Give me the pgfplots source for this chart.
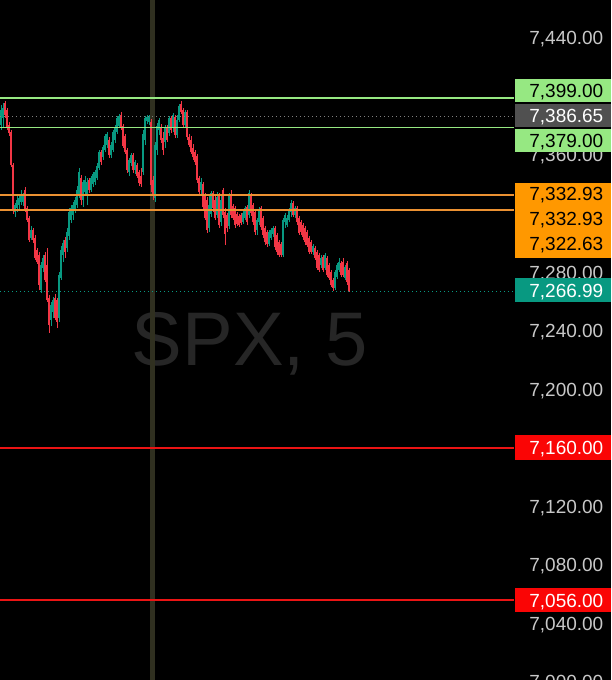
\documentclass[border=0pt]{standalone}
\usepackage{pgfplots}
\pgfplotsset{compat=1.18}
\usepackage{pgfplotstable}
\usepackage{fontspec}
\setmainfont{Liberation Sans}
\definecolor{upc}{RGB}{8,153,129}
\definecolor{dnc}{RGB}{242,54,69}
\definecolor{tickc}{RGB}{200,200,200}
\definecolor{lgreen}{RGB}{150,232,130}
\definecolor{boxgray}{RGB}{80,80,80}
\definecolor{orangebox}{RGB}{255,152,0}
\definecolor{orangeline}{RGB}{235,145,50}
\definecolor{redbox}{RGB}{250,5,5}
\definecolor{redline}{RGB}{235,20,20}
\definecolor{vline}{RGB}{48,48,32}
\definecolor{wm}{RGB}{38,38,38}

\pgfplotstableread{
x o h l c
0 7380.6 7394.3 7377.2 7390.9
1 7385.4 7395.7 7378.6 7392.3
7 7321.1 7327.3 7317.7 7325.9
8 7323.9 7332.1 7321.1 7329.3
9 7325.9 7332.8 7323.2 7330.7
10 7328.0 7336.2 7325.9 7332.8
11 7328.0 7334.1 7325.2 7332.1
15 7303.4 7311.6 7302.0 7308.8
20 7267.8 7287.0 7265.8 7284.9
21 7282.9 7291.8 7280.1 7289.7
25 7247.3 7259.6 7243.2 7257.6
26 7252.8 7263.1 7248.7 7261.0
29 7248.7 7280.1 7246.0 7278.1
30 7276.0 7297.9 7274.7 7295.2
31 7291.8 7302.0 7287.0 7300.0
33 7296.5 7310.2 7293.8 7307.5
34 7304.7 7323.9 7302.0 7321.1
35 7315.7 7325.9 7313.6 7323.9
36 7319.1 7328.0 7315.7 7325.9
37 7322.5 7331.4 7320.5 7329.3
38 7325.9 7338.9 7323.9 7336.2
39 7332.8 7351.2 7330.7 7348.5
41 7329.3 7343.0 7324.6 7341.7
42 7334.8 7345.8 7332.8 7343.0
43 7332.8 7344.4 7325.9 7341.7
45 7336.2 7345.8 7334.8 7344.4
46 7340.3 7348.5 7338.2 7347.1
47 7341.7 7349.9 7339.6 7348.5
48 7344.4 7354.6 7343.0 7352.6
49 7351.2 7363.5 7349.9 7362.2
51 7358.7 7366.9 7356.7 7365.6
52 7363.5 7374.5 7362.2 7373.1
53 7366.9 7375.8 7364.9 7374.5
55 7360.1 7369.0 7358.1 7366.9
56 7363.5 7377.2 7362.2 7375.8
57 7370.4 7380.6 7368.3 7379.3
58 7375.8 7386.8 7374.5 7385.4
59 7379.9 7388.2 7378.6 7386.8
64 7348.5 7358.1 7345.8 7356.7
65 7354.6 7361.5 7352.6 7360.1
67 7349.9 7356.7 7347.1 7355.3
71 7348.5 7377.2 7346.4 7374.5
72 7370.4 7386.8 7366.9 7385.4
73 7383.4 7387.5 7381.3 7386.1
74 7382.7 7387.5 7380.6 7386.1
77 7330.7 7369.0 7328.0 7366.9
78 7363.5 7382.0 7360.1 7379.9
79 7377.2 7385.4 7373.8 7384.0
82 7369.0 7380.6 7364.9 7378.6
84 7375.2 7386.8 7373.1 7385.4
86 7378.6 7388.8 7375.8 7387.5
88 7373.8 7387.5 7371.7 7384.0
89 7384.0 7395.0 7382.7 7393.6
92 7380.6 7390.9 7378.6 7389.5
100 7336.2 7344.4 7332.8 7341.7
104 7310.2 7332.8 7307.5 7325.9
105 7319.8 7335.5 7317.7 7334.1
108 7319.1 7334.8 7317.0 7331.4
110 7314.3 7332.1 7311.6 7329.3
114 7311.6 7334.1 7309.5 7332.8
121 7314.3 7321.8 7312.9 7320.5
122 7317.0 7325.2 7315.7 7323.9
124 7319.1 7336.2 7317.0 7334.1
128 7308.8 7317.0 7305.4 7315.7
129 7314.3 7324.6 7312.3 7322.5
134 7299.3 7308.8 7297.9 7307.5
135 7303.4 7310.2 7302.0 7308.8
136 7306.1 7311.6 7304.1 7310.2
141 7291.8 7317.0 7290.4 7315.7
142 7314.3 7320.5 7310.2 7319.1
143 7312.3 7319.1 7310.9 7317.0
144 7315.7 7323.9 7314.3 7322.5
145 7321.1 7329.3 7317.7 7327.3
147 7319.1 7325.2 7317.0 7323.9
156 7293.8 7299.3 7291.8 7297.9
160 7284.9 7291.8 7282.9 7289.7
162 7282.9 7293.1 7281.5 7291.8
167 7269.2 7281.5 7267.8 7280.1
168 7276.7 7286.3 7275.4 7284.9
169 7281.5 7289.7 7280.1 7287.0
172 7276.0 7284.9 7274.7 7283.6
}\upcandles

\pgfplotstableread{
x o h l c
2 7395.7 7397.0 7385.4 7387.5
3 7390.9 7392.3 7377.2 7379.3
4 7380.6 7382.7 7373.1 7375.2
5 7375.8 7377.2 7351.9 7353.3
6 7353.3 7354.6 7319.8 7322.5
12 7336.2 7338.2 7321.1 7322.5
13 7323.9 7325.2 7314.3 7315.7
14 7317.0 7318.4 7300.6 7302.0
16 7308.8 7310.2 7300.0 7302.0
17 7303.4 7305.4 7288.3 7289.7
18 7295.2 7296.5 7285.6 7287.0
19 7291.8 7293.8 7267.8 7271.3
22 7291.8 7293.8 7273.3 7274.7
23 7284.9 7296.5 7259.6 7261.0
24 7262.4 7264.4 7238.5 7243.9
27 7262.4 7265.1 7247.3 7248.7
28 7261.0 7262.4 7241.9 7246.0
32 7302.0 7304.1 7289.7 7293.8
40 7344.4 7346.4 7325.9 7329.3
44 7343.0 7344.4 7334.1 7336.2
50 7362.2 7363.5 7353.3 7355.3
54 7370.4 7372.4 7358.1 7360.1
60 7387.5 7389.5 7377.2 7378.6
61 7379.9 7381.3 7364.9 7366.2
62 7373.1 7374.5 7360.8 7362.2
63 7363.5 7364.9 7347.8 7349.9
66 7360.1 7361.5 7347.8 7349.9
68 7353.3 7354.6 7344.4 7345.8
69 7348.5 7349.9 7338.9 7341.0
70 7345.8 7351.2 7338.2 7340.3
75 7382.7 7384.7 7334.8 7339.6
76 7343.0 7345.8 7329.3 7332.8
80 7379.3 7381.3 7368.3 7370.4
81 7371.7 7375.8 7360.1 7363.5
83 7378.6 7380.6 7369.0 7370.4
85 7385.4 7386.8 7375.2 7377.2
87 7386.1 7387.5 7371.7 7373.8
90 7395.0 7397.0 7388.2 7389.5
91 7390.9 7392.3 7378.6 7380.6
93 7389.5 7390.9 7370.4 7372.4
94 7372.4 7374.5 7365.6 7366.9
95 7370.4 7373.1 7360.8 7362.2
96 7364.9 7367.6 7356.7 7358.7
97 7362.2 7363.5 7353.3 7355.3
98 7359.4 7360.8 7341.0 7343.0
99 7344.4 7345.8 7333.5 7334.8
101 7340.3 7341.7 7322.5 7324.6
102 7332.8 7334.1 7315.7 7317.0
103 7329.3 7331.4 7306.8 7308.8
106 7334.1 7335.5 7321.1 7323.9
107 7329.3 7332.1 7315.7 7317.0
109 7332.1 7334.1 7310.2 7312.3
111 7336.2 7337.6 7317.0 7319.1
112 7321.1 7323.9 7298.6 7306.1
113 7319.1 7320.5 7307.5 7310.2
115 7332.8 7336.2 7317.0 7319.1
116 7325.2 7326.6 7315.7 7317.0
117 7323.9 7325.2 7310.2 7312.3
118 7319.8 7321.1 7311.6 7312.9
119 7318.4 7319.8 7310.9 7312.3
120 7319.1 7320.5 7312.3 7313.6
123 7324.6 7325.9 7312.3 7314.3
125 7332.8 7334.1 7318.4 7320.5
126 7325.9 7327.3 7312.3 7314.3
127 7321.1 7322.5 7305.4 7307.5
130 7323.9 7325.2 7308.8 7310.9
131 7317.0 7318.4 7303.4 7305.4
132 7310.2 7311.6 7298.6 7300.6
133 7307.5 7308.8 7297.2 7299.3
137 7310.2 7311.6 7295.2 7297.2
138 7305.4 7306.8 7291.8 7293.8
139 7300.6 7302.0 7290.4 7291.8
140 7299.3 7300.6 7290.4 7291.8
146 7327.3 7328.7 7317.7 7319.1
148 7323.9 7325.2 7312.3 7314.3
149 7317.0 7318.4 7305.4 7306.8
150 7314.3 7315.7 7305.4 7307.5
151 7312.3 7313.6 7302.0 7304.1
152 7310.2 7311.6 7298.6 7300.6
153 7307.5 7308.8 7297.2 7298.6
154 7303.4 7304.7 7292.4 7293.8
155 7300.6 7302.0 7292.4 7293.8
157 7296.5 7297.9 7288.3 7289.7
158 7293.8 7295.2 7281.5 7282.9
159 7291.8 7293.1 7280.1 7281.5
161 7290.4 7291.8 7280.1 7281.5
163 7289.7 7291.1 7276.7 7278.1
164 7284.9 7286.3 7274.7 7276.0
165 7280.1 7281.5 7269.9 7271.3
166 7274.7 7276.0 7267.2 7269.2
170 7286.3 7287.7 7276.7 7278.1
171 7287.0 7289.7 7276.7 7278.1
173 7286.3 7287.7 7271.3 7273.3
174 7281.5 7282.9 7266.5 7266.99
}\downcandles

\tikzset{lbl/.style={inner sep=0pt, text height=13.6pt, text depth=0pt, font=\fontsize{19}{19}\selectfont, anchor=east}}

\begin{document}
\begin{tikzpicture}[x=1pt,y=1pt]
\useasboundingbox (0,0) rectangle (611,680);
\fill[black] (0,0) rectangle (611,680);
\begin{axis}[
  at={(0,0)}, anchor=south west,
  width=514pt, height=680pt, scale only axis,
  xmin=-0.5, xmax=256.5, ymin=7001.2, ymax=7466.1,
  axis line style={draw=none},
  xtick=\empty,
  ytick={7040,7080,7120,7200,7240,7280,7360,7440},
  yticklabels={{7,040.00},{7,080.00},{7,120.00},{7,200.00},{7,240.00},{7,280.00},{7,360.00},{7,440.00}},
  yticklabel pos=right,
  major tick length=0pt, tick style={draw=none},
  yticklabel style={anchor=east, inner sep=0pt, xshift=89.5pt, text height=13.6pt, text depth=0pt, text=tickc, font=\fontsize{19}{19}\selectfont},
]
\node[font=\fontsize{76}{76}\selectfont, text=wm, anchor=base] at (axis cs:124.5,7216.5) {SPX, 5};
\addplot[draw=vline, line width=5pt, forget plot] coordinates {(75.5,7001.2) (75.5,7466.1)};
% wicks
\addplot[draw=none, forget plot, error bars/.cd, y dir=both, y explicit, error mark=none,
  error bar style={draw=upc, line width=0.6pt}]
  table[x=x, y expr={(\thisrow{h}+\thisrow{l})/2}, y error expr={(\thisrow{h}-\thisrow{l})/2}] {\upcandles};
\addplot[draw=none, forget plot, error bars/.cd, y dir=both, y explicit, error mark=none,
  error bar style={draw=dnc, line width=0.6pt}]
  table[x=x, y expr={(\thisrow{h}+\thisrow{l})/2}, y error expr={(\thisrow{h}-\thisrow{l})/2}] {\downcandles};
% bodies
\addplot[draw=none, forget plot, error bars/.cd, y dir=both, y explicit, error mark=none,
  error bar style={draw=upc, line width=1.5pt}]
  table[x=x, y expr={(\thisrow{o}+\thisrow{c})/2}, y error expr={abs(\thisrow{c}-\thisrow{o})/2}] {\upcandles};
\addplot[draw=none, forget plot, error bars/.cd, y dir=both, y explicit, error mark=none,
  error bar style={draw=dnc, line width=1.5pt}]
  table[x=x, y expr={(\thisrow{o}+\thisrow{c})/2}, y error expr={abs(\thisrow{c}-\thisrow{o})/2}] {\downcandles};
% level lines
\addplot[draw=lgreen, line width=1.5pt] coordinates {(-0.5,7399) (256.5,7399)};
\addplot[draw=lgreen, line width=1.5pt] coordinates {(-0.5,7379) (256.5,7379)};
\addplot[draw=gray, line width=0.9pt, dash pattern=on 1pt off 3pt] coordinates {(-0.5,7386.65) (256.5,7386.65)};
\addplot[draw=orangeline, line width=1.6pt] coordinates {(-0.5,7332.93) (256.5,7332.93)};
\addplot[draw=orangeline, line width=1.6pt] coordinates {(-0.5,7322.63) (256.5,7322.63)};
\addplot[draw=upc, line width=0.9pt, dash pattern=on 1pt off 3pt] coordinates {(-0.5,7266.99) (256.5,7266.99)};
\addplot[draw=redline, line width=1.8pt] coordinates {(-0.5,7160) (256.5,7160)};
\addplot[draw=redline, line width=1.8pt] coordinates {(-0.5,7056) (256.5,7056)};
\end{axis}
% bottom tick label, cut by the page edge
\node[lbl, text=tickc] at (603.5,-1.7) {7,000.00};
% price labels
\fill[lgreen] (515,577.5) rectangle (611,600.5);
\node[lbl, text=black] at (603.5,589) {7,399.00};
\fill[boxgray] (515,552.5) rectangle (611,575.5);
\node[lbl, text=white] at (603.5,564) {7,386.65};
\fill[lgreen] (515,528) rectangle (611,551);
\node[lbl, text=black] at (603.5,539.5) {7,379.00};
\fill[orangebox] (515,421.7) rectangle (611,497.3);
\node[lbl, text=black] at (603.5,486.7) {7,332.93};
\node[lbl, text=black] at (603.5,461.7) {7,332.93};
\node[lbl, text=black] at (603.5,436.7) {7,322.63};
\fill[upc] (515,377.5) rectangle (611,401.5);
\node[lbl, text=white] at (603.5,389.5) {7,266.99};
\fill[redbox] (515,220) rectangle (611,244.5);
\node[lbl, text=white] at (603.5,232.2) {7,160.00};
\fill[redbox] (515,67.5) rectangle (611,91.7);
\node[lbl, text=white] at (603.5,79.5) {7,056.00};
\end{tikzpicture}
\end{document}
